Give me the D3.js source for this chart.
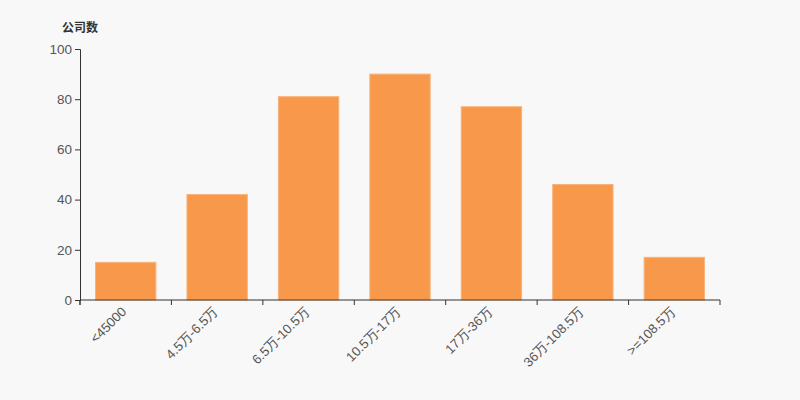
<!DOCTYPE html>
<html><head><meta charset="utf-8">
<script src="https://cdn.jsdelivr.net/npm/d3@7"></script>
<style>html,body{margin:0;padding:0;background:#f8f8f8;}svg{display:block;font-family:"Microsoft YaHei","Noto Sans CJK SC",sans-serif;}</style>
</head><body><svg id="c" width="800" height="400"></svg>
<script>
const categories = ["<45000","4.5万-6.5万","6.5万-10.5万","10.5万-17万","17万-36万","36万-108.5万",">=108.5万"];
const values = [15,42,81,90,77,46,17];
const yTicks = [0,20,40,60,80,100];
const yTitle = "公司数";

const svg = d3.select("#c");
const m = {l:80, r:80, t:49, b:100};
const W = 800, H = 400;
const x = d3.scaleBand().domain(categories).range([m.l, W-m.r]).paddingInner(0.34).paddingOuter(0.17);
const xTick = d3.scaleBand().domain(categories).range([m.l, W-m.r]);
const y = d3.scaleLinear().domain([0,100]).range([H-m.b, m.t]);

svg.append("rect").attr("width",W).attr("height",H).attr("fill","#f8f8f8");

svg.append("g").selectAll("rect").data(values).join("rect")
  .attr("x",(d,i)=>x(categories[i]))
  .attr("y",d=>y(d))
  .attr("width",x.bandwidth())
  .attr("height",d=>y(0)-y(d))
  .attr("fill","#f7984a")
  .attr("stroke","#f9b27a").attr("stroke-width",1);

// y axis
const ya = svg.append("g").attr("transform",`translate(${m.l},0)`)
  .call(d3.axisLeft(y).tickValues(yTicks).tickSize(5).tickPadding(3));
ya.select(".domain").attr("stroke","#333");
ya.selectAll(".tick line").attr("stroke","#333");
ya.selectAll("text").attr("fill","#555").attr("font-size",13.5).attr("font-family","Arial, 'Liberation Sans', sans-serif");

// x axis
const xa = svg.append("g").attr("transform",`translate(0,${H-m.b})`)
  .call(d3.axisBottom(xTick).tickSize(5).tickFormat(""));
xa.select(".domain").attr("stroke","#333").attr("d",`M${m.l},5V0H${W-m.r}V5`);
xa.selectAll(".tick line").attr("stroke","#333").attr("transform",function(){return `translate(${-xTick.bandwidth()/2},0)`;});
xa.append("g").selectAll("text").data(categories).join("text")
  .attr("transform",d=>`translate(${xTick(d)+xTick.bandwidth()/2-1},${10}) rotate(-45)`)
  .attr("text-anchor","end").attr("dominant-baseline","middle")
  .attr("fill","#555").attr("font-size",13.2)
  .text(d=>d);

svg.append("text").attr("x",62).attr("y",32).attr("font-size",12).attr("font-weight","bold")
  .attr("fill","#333").text(yTitle);
</script></body></html>
